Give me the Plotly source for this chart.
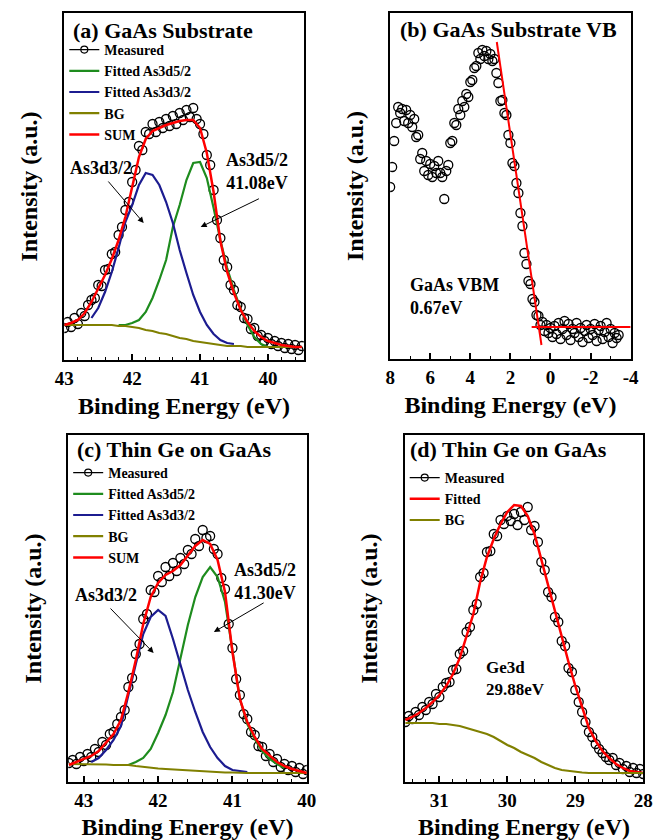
import plotly.graph_objects as go

FONT = "Liberation Serif"
GREEN = "#1e8c1e"
BLUE = "#1c1c90"
OLIVE = "#808000"
RED = "#ff0000"

# ---------------- Panel (a) GaAs substrate As3d ----------------
A_ENERGY_FIT = [43.0, 42.9, 42.8, 42.7, 42.6, 42.5, 42.4, 42.3, 42.2, 42.1, 42.0, 41.9, 41.8, 41.7,
                41.6, 41.5, 41.4, 41.3, 41.2, 41.1, 41.0, 40.9, 40.8, 40.7, 40.6, 40.5, 40.4, 40.3,
                40.2, 40.1, 40.0, 39.9, 39.8, 39.7, 39.6, 39.5]
A_SUM = [35, 37, 40, 47, 58, 71, 85, 101, 120, 143, 172, 203, 221, 229, 232, 235, 237, 239, 240, 240,
         232, 207, 168, 119, 88, 67, 50, 38, 29, 23, 19, 17, 15, 14, 13, 13]
A_BG = [35, 35, 35, 35, 35, 35, 35, 35, 34, 34, 33, 32, 30, 29, 27, 26, 24, 22, 21, 19, 18, 17, 16, 15,
        14, 14, 14, 13, 13, 13, 13, 13, 13, 13, 13, 13]
A_ENERGY_D52 = [42.2, 42.1, 42.0, 41.9, 41.8, 41.7, 41.6, 41.5, 41.4, 41.3, 41.2, 41.1, 41.0, 40.9,
                40.8, 40.7, 40.6, 40.5, 40.4, 40.3, 40.2, 40.1, 40.0]
A_D52 = [35, 35, 37, 40, 48, 62, 80, 100, 133, 155, 180, 197, 198, 182, 152, 120, 92, 70, 51, 35, 23, 16, 13]
A_ENERGY_D32 = [42.6, 42.5, 42.4, 42.3, 42.2, 42.1, 42.0, 41.9, 41.8, 41.7, 41.6, 41.5, 41.4, 41.3,
                41.2, 41.1, 41.0, 40.9, 40.8, 40.7, 40.6, 40.5]
A_D32 = [42, 52, 68, 88, 112, 138, 155, 175, 187, 185, 175, 158, 137, 110, 87, 65, 48, 35, 26, 20, 17, 16]
A_ENERGY_MEAS = [43.00, 42.95, 42.90, 42.85, 42.80, 42.75, 42.70, 42.65, 42.60, 42.55, 42.50, 42.45,
                 42.40, 42.35, 42.30, 42.25, 42.20, 42.15, 42.10, 42.05, 42.00, 41.95, 41.90, 41.85,
                 41.80, 41.75, 41.70, 41.65, 41.60, 41.55, 41.50, 41.45, 41.40, 41.35, 41.30, 41.25,
                 41.20, 41.15, 41.10, 41.05, 41.00, 40.95, 40.90, 40.85, 40.80, 40.75, 40.70, 40.65,
                 40.60, 40.55, 40.50, 40.45, 40.40, 40.35, 40.30, 40.25, 40.20, 40.15, 40.10, 40.05,
                 40.00, 39.95, 39.90, 39.85, 39.80, 39.75, 39.70, 39.65, 39.60, 39.55, 39.50]
A_MEAS = [32, 38, 33, 42, 36, 47, 44, 55, 60, 62, 75, 74, 90, 91, 106, 108, 125, 133, 150, 158, 178,
          190, 214, 210, 228, 226, 236, 228, 238, 232, 241, 234, 244, 236, 247, 240, 250, 243, 252,
          241, 236, 226, 205, 195, 170, 140, 122, 100, 93, 75, 70, 55, 53, 42, 41, 31, 32, 24, 25,
          19, 22, 16, 19, 14, 17, 12, 16, 11, 15, 10, 14]

# ---------------- Panel (b) GaAs substrate valence band ----------------
B_ENERGY = [8.0, 7.9, 7.8, 7.7, 7.6, 7.5, 7.4, 7.3, 7.2, 7.1, 7.0, 6.9, 6.8, 6.7, 6.6, 6.5, 6.4, 6.3,
            6.2, 6.1, 6.0, 5.9, 5.8, 5.7, 5.6, 5.5, 5.4, 5.3, 5.2, 5.1, 5.0, 4.9, 4.8, 4.7, 4.6, 4.5,
            4.4, 4.3, 4.2, 4.1, 4.0, 3.9, 3.8, 3.7, 3.6, 3.5, 3.4, 3.3, 3.2, 3.1, 3.0, 2.9, 2.8, 2.7,
            2.6, 2.5, 2.4, 2.3, 2.2, 2.1, 2.0, 1.9, 1.8, 1.7, 1.6, 1.5, 1.4, 1.3, 1.2, 1.1, 1.0, 0.9,
            0.8, 0.7, 0.6, 0.5, 0.4, 0.3, 0.2, 0.1, 0.0, -0.1, -0.2, -0.3, -0.4, -0.5, -0.6, -0.7,
            -0.8, -0.9, -1.0, -1.1, -1.2, -1.3, -1.4, -1.5, -1.6, -1.7, -1.8, -1.9, -2.0, -2.1, -2.2,
            -2.3, -2.4, -2.5, -2.6, -2.7, -2.8, -2.9, -3.0, -3.1, -3.2, -3.3, -3.4]
B_MEAS = [172, 192, 218, 236, 252, 246, 250, 238, 249, 236, 244, 232, 240, 222, 224, 200, 206, 188,
          198, 184, 195, 182, 193, 186, 198, 186, 182, 160, 188, 194, 216, 218, 236, 234, 250, 244,
          258, 252, 265, 262, 277, 279, 291, 293, 306, 300, 309, 303, 308, 300, 305, 298, 300, 286,
          276, 258, 259, 246, 244, 224, 216, 196, 193, 176, 166, 146, 133, 106, 95, 78, 75, 60,
          57, 44, 43, 34, 37, 28, 34, 26, 31, 22, 33, 25, 36, 20, 30, 38, 24, 35, 19, 30, 26, 36,
          22, 31, 17, 28, 34, 21, 30, 24, 35, 18, 29, 33, 20, 27, 36, 22, 30, 16, 26, 21, 24]
B_EDGE_X = [2.68, 0.45]
B_EDGE_Y = [317, 14]
B_BASE_X = [0.94, -4.0]
B_BASE_Y = [32, 32]
B_TICKS = [8, 6, 4, 2, 0, -2, -4]
B_TICK_TEXT = ["8", "6", "4", "2", "0", "-2", "-4"]

# ---------------- Panel (c) Thin Ge on GaAs, As3d ----------------
C_ENERGY_FIT = [43.2, 43.1, 43.0, 42.9, 42.8, 42.7, 42.6, 42.5, 42.4, 42.3, 42.2, 42.1, 42.0, 41.9,
                41.8, 41.7, 41.6, 41.5, 41.4, 41.3, 41.2, 41.1, 41.0, 40.9, 40.8, 40.7, 40.6, 40.5,
                40.4, 40.3, 40.2, 40.1, 40.0]
C_SUM = [17, 20, 23, 26, 31, 39, 48, 62, 90, 122, 158, 185, 199, 207, 211, 217, 226, 236, 242, 238,
         222, 190, 130, 83, 60, 45, 33, 26, 20, 16, 13, 11, 9]
C_BG = [18, 18, 18, 18, 17.5, 17.5, 17, 17, 17, 16, 15, 14, 13.5, 13, 12.5, 12, 11.5, 11, 10.5, 10,
        10, 9.5, 9.5, 9, 9, 9, 9, 9, 9, 9, 9, 9, 9]
C_ENERGY_D52 = [42.4, 42.3, 42.2, 42.1, 42.0, 41.9, 41.8, 41.7, 41.6, 41.5, 41.4, 41.3, 41.2, 41.1,
                41.0, 40.9, 40.8, 40.7, 40.6, 40.5, 40.4, 40.3]
C_D52 = [17, 20, 24, 33, 49, 67, 90, 125, 157, 185, 205, 215, 205, 180, 130, 83, 58, 43, 31, 23, 18, 14]
C_ENERGY_D32 = [42.9, 42.8, 42.7, 42.6, 42.5, 42.4, 42.3, 42.2, 42.1, 42.0, 41.9, 41.8, 41.7, 41.6,
                41.5, 41.4, 41.3, 41.2, 41.1, 41.0, 40.9, 40.8]
C_D32 = [20, 24, 32, 42, 56, 88, 118, 148, 165, 172, 166, 143, 118, 92, 70, 50, 35, 24, 16, 12, 11, 10]
C_ENERGY_MEAS = [43.20, 43.15, 43.10, 43.05, 43.00, 42.95, 42.90, 42.85, 42.80, 42.75, 42.70, 42.65,
                 42.60, 42.55, 42.50, 42.45, 42.40, 42.35, 42.30, 42.25, 42.20, 42.15, 42.10, 42.05,
                 42.00, 41.95, 41.90, 41.85, 41.80, 41.75, 41.70, 41.65, 41.60, 41.55, 41.50, 41.45,
                 41.40, 41.35, 41.30, 41.25, 41.20, 41.15, 41.10, 41.05, 41.00, 40.95, 40.90, 40.85,
                 40.80, 40.75, 40.70, 40.65, 40.60, 40.55, 40.50, 40.45, 40.40, 40.35, 40.30, 40.25,
                 40.20, 40.15, 40.10, 40.05, 40.00]
C_MEAS = [19, 22, 18, 25, 21, 28, 25, 33, 30, 40, 37, 48, 50, 58, 65, 72, 95, 104, 128, 138, 163,
          168, 192, 190, 206, 200, 215, 206, 219, 211, 224, 218, 232, 228, 243, 236, 252, 244, 246,
          233, 228, 204, 193, 158, 134, 103, 87, 68, 63, 50, 47, 36, 35, 26, 28, 20, 23, 15, 18, 12,
          16, 10, 14, 8, 12]

# ---------------- Panel (d) Thin Ge on GaAs, Ge3d ----------------
D_ENERGY_FIT = [31.5, 31.4, 31.3, 31.2, 31.1, 31.0, 30.9, 30.8, 30.7, 30.6, 30.5, 30.4, 30.3, 30.2,
                30.1, 30.0, 29.9, 29.8, 29.7, 29.6, 29.5, 29.4, 29.3, 29.2, 29.1, 29.0, 28.9, 28.8,
                28.7, 28.6, 28.5, 28.4, 28.3, 28.2, 28.1, 28.0]
D_FIT = [62, 65, 69, 74, 80, 87, 96, 108, 124, 145, 168, 200, 225, 243, 258, 270, 277, 276, 266, 248,
         222, 195, 170, 145, 120, 96, 74, 54, 41, 31, 24, 18, 14, 11, 10, 9]
D_BG = [59, 59, 59, 59, 59, 58, 58, 57, 56, 54, 52, 50, 48, 45, 41, 37, 34, 30, 27, 24, 20, 17, 14,
        12, 11, 10, 9.5, 9, 9, 9, 9, 9, 9, 9, 9, 9]
D_ENERGY_MEAS = [31.50, 31.45, 31.40, 31.35, 31.30, 31.25, 31.20, 31.15, 31.10, 31.05, 31.00, 30.95,
                 30.90, 30.85, 30.80, 30.75, 30.70, 30.65, 30.60, 30.55, 30.50, 30.45, 30.40, 30.35,
                 30.30, 30.25, 30.20, 30.15, 30.10, 30.05, 30.00, 29.95, 29.90, 29.85, 29.80, 29.75,
                 29.70, 29.65, 29.60, 29.55, 29.50, 29.45, 29.40, 29.35, 29.30, 29.25, 29.20, 29.15,
                 29.10, 29.05, 29.00, 28.95, 28.90, 28.85, 28.80, 28.75, 28.70, 28.65, 28.60, 28.55,
                 28.50, 28.45, 28.40, 28.35, 28.30, 28.25, 28.20, 28.15, 28.10, 28.05, 28.00]
D_MEAS = [60, 66, 63, 70, 67, 75, 72, 80, 78, 88, 85, 95, 99, 100, 112, 113, 128, 131, 150, 155, 172,
          178, 205, 209, 230, 231, 248, 246, 262, 258, 266, 261, 268, 257, 270, 262, 275, 252, 256,
          240, 220, 212, 190, 185, 165, 160, 141, 136, 114, 110, 92, 80, 70, 60, 50, 45, 38, 33, 29,
          25, 22, 24, 17, 19, 13, 16, 10, 14, 9, 13, 8]

# ---------------- Figure ----------------
fig = go.Figure()
MEAS_MARKER = dict(symbol="circle-open", size=9, color="black", line=dict(width=1.3, color="black"))


def meas(x, y, xa, ya, legend, show=True):
    fig.add_trace(go.Scatter(x=x, y=y, mode="markers", marker=MEAS_MARKER, xaxis=xa, yaxis=ya,
                             showlegend=False, hoverinfo="skip"))
    if show:
        fig.add_trace(go.Scatter(x=[None], y=[None], mode="lines+markers", name="Measured",
                                 line=dict(color="black", width=1.2),
                                 marker=dict(symbol="circle-open", size=7, color="black",
                                             line=dict(width=1.2, color="black")),
                                 xaxis=xa, yaxis=ya, legend=legend))


def curve(x, y, name, color, xa, ya, legend, width=2.2, show=True):
    fig.add_trace(go.Scatter(x=x, y=y, mode="lines", name=name, line=dict(color=color, width=width),
                             xaxis=xa, yaxis=ya, legend=legend, showlegend=show))


# (a)
meas(A_ENERGY_MEAS, A_MEAS, "x", "y", "legend")
curve(A_ENERGY_D52, A_D52, "Fitted As3d5/2", GREEN, "x", "y", "legend")
curve(A_ENERGY_D32, A_D32, "Fitted As3d3/2", BLUE, "x", "y", "legend")
curve(A_ENERGY_FIT, A_BG, "BG", OLIVE, "x", "y", "legend")
curve(A_ENERGY_FIT, A_SUM, "SUM", RED, "x", "y", "legend", width=2.5)

# (b)
meas(B_ENERGY, B_MEAS, "x2", "y2", "legend", show=False)
curve(B_EDGE_X, B_EDGE_Y, "VB edge", RED, "x2", "y2", "legend", width=2, show=False)
curve(B_BASE_X, B_BASE_Y, "Baseline", RED, "x2", "y2", "legend", width=2, show=False)

# (c)
meas(C_ENERGY_MEAS, C_MEAS, "x3", "y3", "legend2")
curve(C_ENERGY_D52, C_D52, "Fitted As3d5/2", GREEN, "x3", "y3", "legend2")
curve(C_ENERGY_D32, C_D32, "Fitted As3d3/2", BLUE, "x3", "y3", "legend2")
curve(C_ENERGY_FIT, C_BG, "BG", OLIVE, "x3", "y3", "legend2")
curve(C_ENERGY_FIT, C_SUM, "SUM", RED, "x3", "y3", "legend2", width=2.5)

# (d)
meas(D_ENERGY_MEAS, D_MEAS, "x4", "y4", "legend3")
curve(D_ENERGY_FIT, D_FIT, "Fitted", RED, "x4", "y4", "legend3", width=2.5)
curve(D_ENERGY_FIT, D_BG, "BG", OLIVE, "x4", "y4", "legend3")

W, H = 662, 840


def px_x(a, b):
    return [a / W, b / W]


def px_y(top, bottom):
    return [1 - bottom / H, 1 - top / H]


TICKFONT = dict(family=FONT, size=19, color="black", weight="bold")
TITLEFONT = dict(family=FONT, size=24, color="black", weight="bold")


def xaxis(domain, anchor, rng, minor_dtick, **kw):
    d = dict(domain=domain, anchor=anchor, range=rng, ticks="inside", ticklen=6, tickwidth=1.5,
             tickcolor="black", minor=dict(ticks="inside", tickmode="linear", tick0=0,
                                           dtick=minor_dtick, ticklen=3, tickwidth=1.2,
                                           tickcolor="black"),
             showline=True, linewidth=2, linecolor="black", mirror=True, showgrid=False,
             zeroline=False, tickfont=TICKFONT,
             title=dict(text="Binding Energy (eV)", font=TITLEFONT, standoff=9))
    d.update(kw)
    return d


def yaxis(domain, anchor, top):
    return dict(domain=domain, anchor=anchor, range=[0, top], showticklabels=False, ticks="",
                showline=True, linewidth=2, linecolor="black", mirror=True, showgrid=False,
                zeroline=False, title=dict(text="Intensity (a.u.)", font=TITLEFONT, standoff=18))


LEGFONT = dict(family=FONT, size=14, color="black", weight="bold")


def legend(xp, yp):
    return dict(x=xp / W, y=1 - yp / H, xanchor="left", yanchor="top", xref="paper", yref="paper",
                font=LEGFONT, bgcolor="rgba(0,0,0,0)", borderwidth=0, tracegroupgap=0,
                itemwidth=30, traceorder="normal")


fig.update_layout(
    width=W, height=H, margin=dict(l=0, r=0, t=0, b=0),
    paper_bgcolor="white", plot_bgcolor="white",
    font=dict(family=FONT, color="black"),
    xaxis=xaxis(px_x(56, 303), "y", [43, 39.47], 0.2, dtick=1, tick0=0),
    yaxis=yaxis(px_y(13, 360), "x", 347),
    xaxis2=xaxis(px_x(392, 640), "y2", [8, -4], 1, tickmode="array", tickvals=B_TICKS,
                 ticktext=B_TICK_TEXT),
    yaxis2=yaxis(px_y(13, 359), "x2", 346),
    xaxis3=xaxis(px_x(60, 306), "y3", [43.21, 40], 0.2, dtick=1, tick0=0),
    yaxis3=yaxis(px_y(435, 782), "x3", 347),
    xaxis4=xaxis(px_x(407, 653), "y4", [31.51, 28], 0.2, dtick=1, tick0=0),
    yaxis4=yaxis(px_y(435, 782), "x4", 347),
    legend=legend(56, 34),
    legend2=legend(60, 457),
    legend3=legend(407, 462),
)

ANN = dict(family=FONT, size=18, color="black", weight="bold")
TFONT = dict(family=FONT, size=22, color="black", weight="bold")
ann = []
# panel titles
for xr, yr, xx, yy, txt in [("x domain", "y domain", 0.028, 0.951, "(a) GaAs Substrate"),
                            ("x2 domain", "y2 domain", 0.032, 0.951, "(b) GaAs Substrate VB"),
                            ("x3 domain", "y3 domain", 0.028, 0.957, "(c) Thin Ge on GaAs"),
                            ("x4 domain", "y4 domain", 0.012, 0.957, "(d) Thin Ge on GaAs")]:
    ann.append(dict(xref=xr, yref=yr, x=xx, y=yy, text=txt, showarrow=False, xanchor="left",
                    yanchor="middle", font=TFONT))

# peak labels with arrows
ARW = dict(showarrow=True, arrowhead=2, arrowsize=1.2, arrowwidth=1, arrowcolor="black", text="")
ann += [
    dict(xref="x", yref="y", axref="x", ayref="y", x=41.83, y=137, ax=42.37, ay=180, **ARW),
    dict(xref="x", yref="y", axref="x", ayref="y", x=40.99, y=133, ax=40.11, ay=162, **ARW),
    dict(xref="x", yref="y", x=42.46, y=192, text="As3d3/2", showarrow=False, font=ANN),
    dict(xref="x", yref="y", x=40.16, y=188, text="As3d5/2<br>41.08eV", showarrow=False, font=ANN),
    dict(xref="x3", yref="y3", axref="x3", ayref="y3", x=42.06, y=129, ax=42.66, ay=175, **ARW),
    dict(xref="x3", yref="y3", axref="x3", ayref="y3", x=41.25, y=150, ax=40.56, ay=180, **ARW),
    dict(xref="x3", yref="y3", x=42.7, y=187, text="As3d3/2", showarrow=False, font=ANN),
    dict(xref="x3", yref="y3", x=40.56, y=201, text="As3d5/2<br>41.30eV", showarrow=False, font=ANN),
    dict(xref="x2", yref="y2", x=7.13, y=62, text="GaAs VBM<br>0.67eV", showarrow=False, font=ANN,
         xanchor="left", align="left"),
    dict(xref="x4", yref="y4", x=30.35, y=104, text="Ge3d<br>29.88eV", showarrow=False,
         font=dict(family=FONT, size=17, color="black", weight="bold"), xanchor="left",
         align="left"),
]
fig.update_layout(annotations=ann)

fig.write_html("out.html")
